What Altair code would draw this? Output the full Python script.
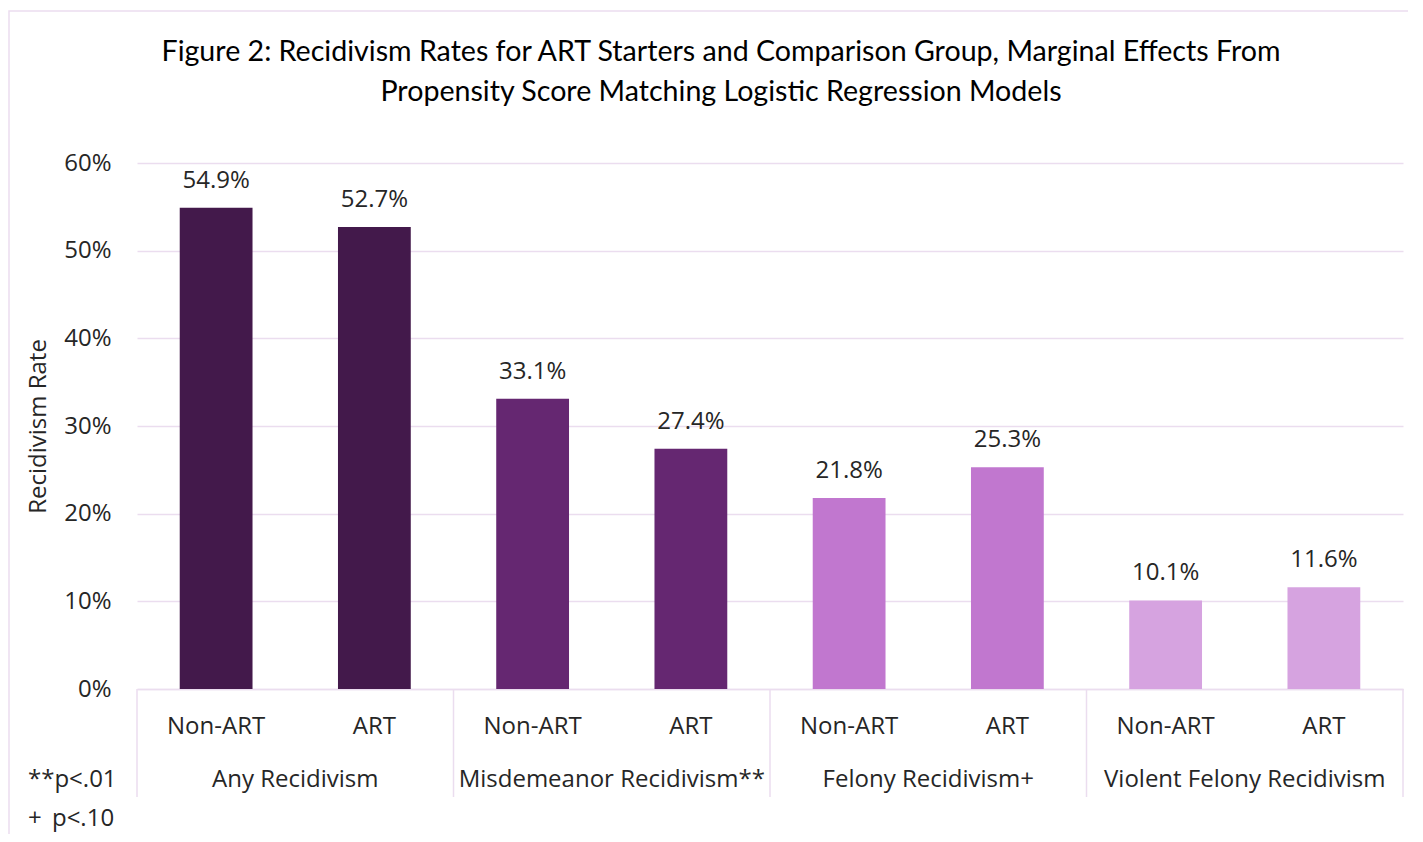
import altair as alt
import pandas as pd

groups = ["Any Recidivism", "Misdemeanor Recidivism**", "Felony Recidivism+", "Violent Felony Recidivism"]
arms = ["Non-ART", "ART"]
values = [0.549, 0.527, 0.331, 0.274, 0.218, 0.253, 0.101, 0.116]
group_colors = ["#43194B", "#652771", "#C177CF", "#D6A3E0"]
y_ticks = [0, 0.1, 0.2, 0.3, 0.4, 0.5, 0.6]
title_lines = ["Figure 2: Recidivism Rates for ART Starters and Comparison Group, Marginal Effects From",
               "Propensity Score Matching Logistic Regression Models"]
notes = ["**p<.01", "+\u00a0\u2009p<.10"]

W, H = 1266, 526
FONT = "Open Sans"
FS = 24
TXT = "#262626"
GRID = "#EBDDEF"

rows = []
for gi, g in enumerate(groups):
    for ai, a in enumerate(arms):
        rows.append({"key": f"{g}|{a}", "group": g, "arm": a, "value": values[gi * 2 + ai]})
df = pd.DataFrame(rows)
keys = list(df["key"])

xband = alt.Scale(domain=keys, paddingInner=0.54, paddingOuter=0.27)
yscale = alt.Scale(domain=[0, 0.6])

yaxis = alt.Axis(title="Recidivism Rate", values=y_ticks, format=".0%", grid=True,
                 gridColor=GRID, gridWidth=1.5, domain=False, ticks=False,
                 labelPadding=26, labelFontSize=FS, labelFont=FONT, labelColor=TXT,
                 titleFontSize=FS, titleFont=FONT, titleColor=TXT, titleFontWeight="normal",
                 titleX=-99, titleY=H / 2, titleAngle=-90, titleAlign="center",
                 titleBaseline="middle")

bars = alt.Chart(df).mark_bar().encode(
    x=alt.X("key:N", sort=keys, scale=xband,
            axis=alt.Axis(title=None, labelExpr="split(datum.label, '|')[1]", labelAngle=0,
                          ticks=False, labelPadding=25, labelFontSize=FS, labelFont=FONT,
                          labelColor=TXT, domainColor=GRID, domainWidth=1.5, grid=False)),
    y=alt.Y("value:Q", scale=yscale, axis=yaxis),
    color=alt.Color("group:N", sort=groups, scale=alt.Scale(domain=groups, range=group_colors), legend=None),
)

labels = alt.Chart(df).mark_text(dy=-15, fontSize=FS, font=FONT, color=TXT, baseline="bottom").encode(
    x=alt.X("key:N", sort=keys, scale=xband, axis=None),
    y=alt.Y("value:Q", scale=yscale, axis=yaxis),
    text=alt.Text("value:Q", format=".1%"),
)

gdf = pd.DataFrame({"group": groups})
gscale = alt.Scale(domain=groups, paddingInner=0, paddingOuter=0)

group_text = alt.Chart(gdf).mark_text(fontSize=FS, font=FONT, color=TXT, baseline="middle").encode(
    x=alt.X("group:N", sort=groups, scale=gscale, bandPosition=0.5, axis=None),
    y=alt.value(H + 91),
    text="group:N",
)

seps = alt.Chart(gdf).mark_rule(color=GRID, strokeWidth=1.5).encode(
    x=alt.X("group:N", sort=groups, scale=gscale, bandPosition=0, axis=None),
    y=alt.value(H),
    y2=alt.value(H + 108),
)
sep_end = alt.Chart(gdf.head(1)).mark_rule(color=GRID, strokeWidth=1.5).encode(
    x=alt.value(W),
    y=alt.value(H),
    y2=alt.value(H + 108),
)

border = alt.Chart(gdf.head(1)).mark_rect(fill=None, stroke=GRID, strokeWidth=1.5).encode(
    x=alt.value(-128), x2=alt.value(W + 200),
    y=alt.value(-152), y2=alt.value(H + 200),
)

foot = alt.Chart(pd.DataFrame({"note": ["\n".join(notes)]})).mark_text(
    align="left", baseline="middle", fontSize=FS, font=FONT, color=TXT, lineBreak="\n", lineHeight=39
).encode(
    x=alt.value(-109),
    y=alt.value(H + 91),
    text="note:N",
)

title = alt.Chart(pd.DataFrame({"t": ["\n".join(title_lines)]})).mark_text(
    align="center", baseline="middle", fontSize=28.6, font="Lato, 'Liberation Sans Narrow', sans-serif",
    color="#000000", lineBreak="\n", lineHeight=40
).encode(
    x=alt.value(584),
    y=alt.value(-111),
    text="t:N",
)

chart = alt.layer(border, bars, labels, seps, sep_end, group_text, foot, title).resolve_scale(
    x="independent"
).properties(
    width=W, height=H,
    padding={"left": 129, "top": 155, "right": 5, "bottom": 145},
    autosize=alt.AutoSizeParams(type="none"),
    background="white",
).configure_view(stroke=None)

chart.save("out.html", embed_options={"renderer": "svg", "actions": False})
